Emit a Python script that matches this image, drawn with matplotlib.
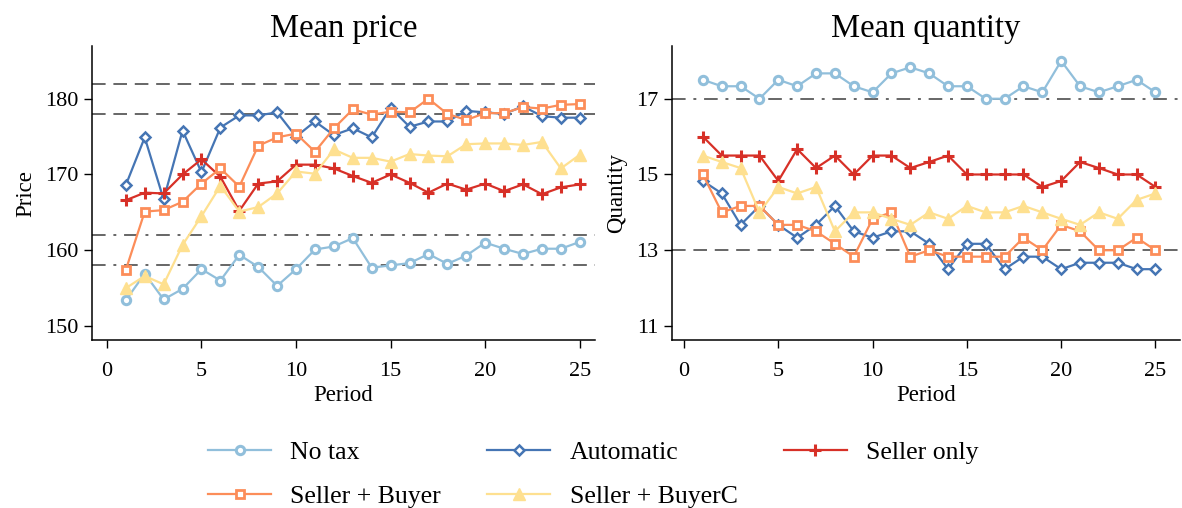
import numpy as np
import matplotlib
matplotlib.use("Agg")
import matplotlib.pyplot as plt

plt.rcParams["font.family"] = ["Liberation Serif", "DejaVu Serif"]

periods = np.arange(1, 26)

# mean price by treatment
price_notax = [153.4, 156.9, 153.5, 154.9, 157.5, 156.0, 159.4, 157.8, 155.3, 157.5,
               160.1, 160.5, 161.6, 157.7, 158.0, 158.3, 159.5, 158.2, 159.3, 161.0,
               160.2, 159.5, 160.2, 160.2, 161.1]
price_auto = [168.6, 174.9, 166.7, 175.8, 170.3, 176.2, 177.8, 177.8, 178.2, 175.0,
              177.0, 175.2, 176.1, 174.9, 178.8, 176.3, 177.0, 177.0, 178.4, 178.2,
              178.0, 179.0, 177.7, 177.5, 177.5]
price_seller = [166.6, 167.6, 167.5, 170.0, 172.0, 169.7, 165.2, 168.8, 169.1, 171.3,
                171.3, 170.8, 169.8, 168.9, 170.0, 168.9, 167.6, 168.8, 168.0, 168.8,
                167.8, 168.7, 167.4, 168.3, 168.7]
price_sb = [157.4, 165.1, 165.3, 166.4, 168.8, 170.8, 168.4, 173.8, 174.9, 175.4,
            173.0, 176.1, 178.6, 177.9, 178.3, 178.2, 180.0, 178.0, 177.2, 178.1,
            178.1, 178.9, 178.7, 179.2, 179.3]
price_sbc = [155.0, 156.6, 155.5, 160.7, 164.5, 168.5, 165.1, 165.7, 167.5, 170.4,
             170.1, 173.3, 172.2, 172.2, 171.7, 172.7, 172.5, 172.4, 174.0, 174.1,
             174.1, 173.9, 174.3, 170.8, 172.6]

# mean quantity by treatment
qty_notax = [17.5, 17.33, 17.33, 17.0, 17.5, 17.33, 17.67, 17.67, 17.33, 17.17,
             17.67, 17.83, 17.67, 17.33, 17.33, 17.0, 17.0, 17.33, 17.17, 18.0,
             17.33, 17.17, 17.33, 17.5, 17.17]
qty_auto = [14.83, 14.5, 13.67, 14.17, 13.67, 13.33, 13.67, 14.17, 13.5, 13.33,
            13.5, 13.5, 13.17, 12.5, 13.17, 13.17, 12.5, 12.83, 12.83, 12.5,
            12.67, 12.67, 12.67, 12.5, 12.5]
qty_seller = [16.0, 15.5, 15.5, 15.5, 14.83, 15.67, 15.17, 15.5, 15.0, 15.5,
              15.5, 15.17, 15.33, 15.5, 15.0, 15.0, 15.0, 15.0, 14.67, 14.83,
              15.33, 15.17, 15.0, 15.0, 14.67]
qty_sb = [15.0, 14.0, 14.17, 14.17, 13.67, 13.67, 13.5, 13.17, 12.83, 13.83,
          14.0, 12.83, 13.0, 12.83, 12.83, 12.83, 12.83, 13.33, 13.0, 13.67,
          13.5, 13.0, 13.0, 13.33, 13.0]
qty_sbc = [15.5, 15.33, 15.17, 14.0, 14.67, 14.5, 14.67, 13.5, 14.0, 14.0,
           13.83, 13.67, 14.0, 13.83, 14.17, 14.0, 14.0, 14.17, 14.0, 13.83,
           13.67, 14.0, 13.83, 14.33, 14.5]

labels = ["No tax", "Automatic", "Seller only", "Seller + Buyer", "Seller + BuyerC"]
colors = ["#91bfdb", "#4575b4", "#d73027", "#fc8d59", "#fee090"]
styles = [dict(marker="o", ms=6, mfc="white", mew=2.2),
          dict(marker="D", ms=5.5, mfc="white", mew=1.8),
          dict(marker="+", ms=9, mew=2.2),
          dict(marker="s", ms=6, mfc="white", mew=2),
          dict(marker="^", ms=8, mew=1)]

price_ref_dash = [182, 178]
price_ref_dashdot = [162, 158]
qty_ref_dash = [13]
qty_ref_dashdot = [17]

fig = plt.figure(figsize=(11.82, 5.08), dpi=100)
ax1 = fig.add_axes([0.0778, 0.3307, 0.4255, 0.5778])
ax2 = fig.add_axes([0.5685, 0.3307, 0.4298, 0.5778])

def panel(ax, series, dash, dashdot, title, ylabel, yticks, ylim, xlim):
    for y in dash:
        ax.axhline(y, color="#666666", lw=1.4, ls=(0, (7, 4)), zorder=1)
    for y in dashdot:
        ax.axhline(y, color="#666666", lw=1.4, ls=(0, (7, 4, 1.5, 4)), zorder=1)
    for vals, lab, c, st in zip(series, labels, colors, styles):
        ax.plot(periods, vals, color=c, lw=1.6, mec=c, label=lab, zorder=3, **st)
    ax.set_title(title, fontsize=23.5, pad=7)
    ax.set_ylabel(ylabel, fontsize=16.5, labelpad=6)
    ax.set_xlabel("Period", fontsize=16.5, labelpad=3)
    ax.set_xticks([0, 5, 10, 15, 20, 25])
    ax.set_yticks(yticks)
    ax.set_xlim(*xlim)
    ax.set_ylim(*ylim)
    ax.tick_params(labelsize=16, length=6, width=1, direction="out")
    ax.tick_params(axis="x", pad=10)
    ax.tick_params(axis="y", pad=4)
    for s in ["top", "right"]:
        ax.spines[s].set_visible(False)
    for s in ["left", "bottom"]:
        ax.spines[s].set_linewidth(1.1)

panel(ax1, [price_notax, price_auto, price_seller, price_sb, price_sbc],
      price_ref_dash, price_ref_dashdot, "Mean price", "Price",
      [150, 160, 170, 180], (148.15, 186.9), (-0.79, 25.8))
panel(ax2, [qty_notax, qty_auto, qty_seller, qty_sb, qty_sbc],
      qty_ref_dash, qty_ref_dashdot, "Mean quantity", "Quantity",
      [11, 13, 15, 17], (10.63, 18.38), (-0.64, 26.3))

# legend fills column-wise; reorder so rows read left to right
handles, labs = ax1.get_legend_handles_labels()
order = [0, 3, 1, 4, 2]
fig.legend([handles[i] for i in order], [labs[i] for i in order],
           loc="upper center", bbox_to_anchor=(0.502, 0.177),
           ncol=3, frameon=False, fontsize=18.5, handlelength=2.45,
           handletextpad=0.75, columnspacing=1.8, labelspacing=0.8)

fig.savefig("out.png", dpi=100)
